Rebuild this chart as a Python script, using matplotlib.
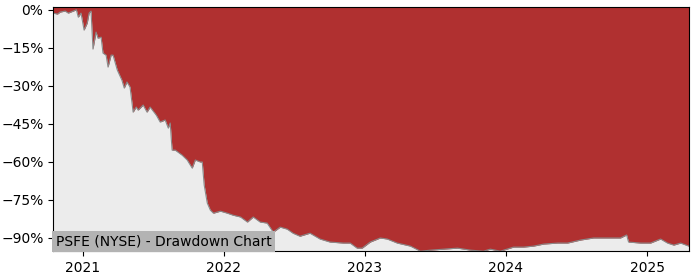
import pandas as pd
import numpy as np
import matplotlib
matplotlib.use("Agg")
import matplotlib.pyplot as plt
import matplotlib.dates as mdates
from matplotlib.ticker import MultipleLocator, PercentFormatter


# drawdown (percent below running peak)
dates = ['2020-10-16', '2020-10-27', '2020-11-03', '2020-11-16', '2020-11-24',
         '2020-12-07', '2020-12-15', '2020-12-20', '2020-12-27', '2021-01-04',
         '2021-01-12', '2021-01-17', '2021-01-22', '2021-01-27', '2021-02-04',
         '2021-02-09', '2021-02-17', '2021-02-22', '2021-03-02', '2021-03-07',
         '2021-03-15', '2021-03-20', '2021-03-31', '2021-04-12', '2021-04-18',
         '2021-04-25', '2021-05-03', '2021-05-11', '2021-05-19', '2021-05-24',
         '2021-06-06', '2021-06-16', '2021-06-24', '2021-07-10', '2021-07-20',
         '2021-08-02', '2021-08-10', '2021-08-15', '2021-08-18', '2021-08-20',
         '2021-08-28', '2021-09-15', '2021-09-28', '2021-10-11', '2021-10-19',
         '2021-11-01', '2021-11-06', '2021-11-11', '2021-11-19', '2021-11-27',
         '2021-12-05', '2021-12-23', '2022-01-10', '2022-01-25', '2022-02-13',
         '2022-03-03', '2022-03-18', '2022-04-05', '2022-04-23', '2022-05-09',
         '2022-05-27', '2022-06-14', '2022-06-29', '2022-07-17', '2022-08-12',
         '2022-09-07', '2022-10-03', '2022-11-06', '2022-11-24', '2022-12-12',
         '2022-12-25', '2023-01-15', '2023-02-10', '2023-02-28', '2023-03-26',
         '2023-04-29', '2023-05-25', '2023-06-20', '2023-07-24', '2023-08-29',
         '2023-10-02', '2023-11-04', '2023-11-22', '2023-12-18', '2024-01-21',
         '2024-02-16', '2024-03-13', '2024-04-08', '2024-05-14', '2024-06-09',
         '2024-07-13', '2024-08-15', '2024-09-21', '2024-10-24', '2024-11-09',
         '2024-11-14', '2024-12-15', '2025-01-10', '2025-02-05', '2025-02-23',
         '2025-03-11', '2025-03-29', '2025-04-19']
drawdown = [-1.3, -1.7, -0.9, -0.5, -1.3,
            -0.5, 0.0, -2.9, -1.3, -8.0,
            -5.3, -1.3, -0.5, -15.5, -8.8,
            -11.2, -10.8, -17.1, -17.9, -22.6,
            -17.9, -17.9, -23.8, -27.8, -30.9,
            -28.5, -30.5, -40.4, -38.4, -39.6,
            -37.6, -40.4, -38.4, -41.6, -44.3,
            -43.5, -46.7, -44.7, -51.4, -55.4,
            -55.4, -57.4, -59.3, -62.5, -59.3,
            -60.1, -60.1, -69.2, -76.3, -79.1,
            -80.3, -79.5, -80.3, -81.1, -81.8,
            -83.8, -81.8, -83.8, -84.2, -87.8,
            -85.8, -86.6, -88.2, -89.4, -88.2,
            -90.5, -91.7, -92.1, -92.1, -94.1,
            -94.1, -91.7, -90.1, -90.5, -92.1,
            -93.3, -95.3, -94.9, -94.5, -94.1,
            -94.9, -95.3, -94.5, -95.3, -93.7,
            -93.7, -93.3, -92.5, -92.1, -92.1,
            -90.9, -90.1, -90.1, -90.1, -88.9,
            -91.7, -92.1, -92.1, -90.5, -92.1,
            -92.9, -92.1, -93.3]
label = "PSFE (NYSE) - Drawdown Chart"

df = pd.DataFrame({'date': pd.to_datetime(dates), 'dd': drawdown})
bottom = df['dd'].min() - 0.1

fig = plt.figure(figsize=(7, 2.8), dpi=100)
ax = fig.add_axes([0.076, 0.102, 0.908, 0.872])
ax.set_facecolor('#b03030')

ax.fill_between(df['date'], df['dd'], bottom, color='#ececec', lw=0)
ax.plot(df['date'], df['dd'], color='#8a8a8a', lw=0.8)

ax.set_xlim(df['date'].iloc[0], df['date'].iloc[-1])
ax.set_ylim(bottom, 1.0)

ax.yaxis.set_major_locator(MultipleLocator(15))
ax.yaxis.set_major_formatter(PercentFormatter(decimals=0))
ax.xaxis.set_major_locator(mdates.YearLocator())
ax.xaxis.set_major_formatter(mdates.DateFormatter('%Y'))

ax.text(0.004, 0.012, label, transform=ax.transAxes, fontsize=10,
        va='bottom', ha='left',
        bbox=dict(facecolor='#b3b3b3', edgecolor='none', pad=2.5))

fig.savefig('out.png', dpi=100)
